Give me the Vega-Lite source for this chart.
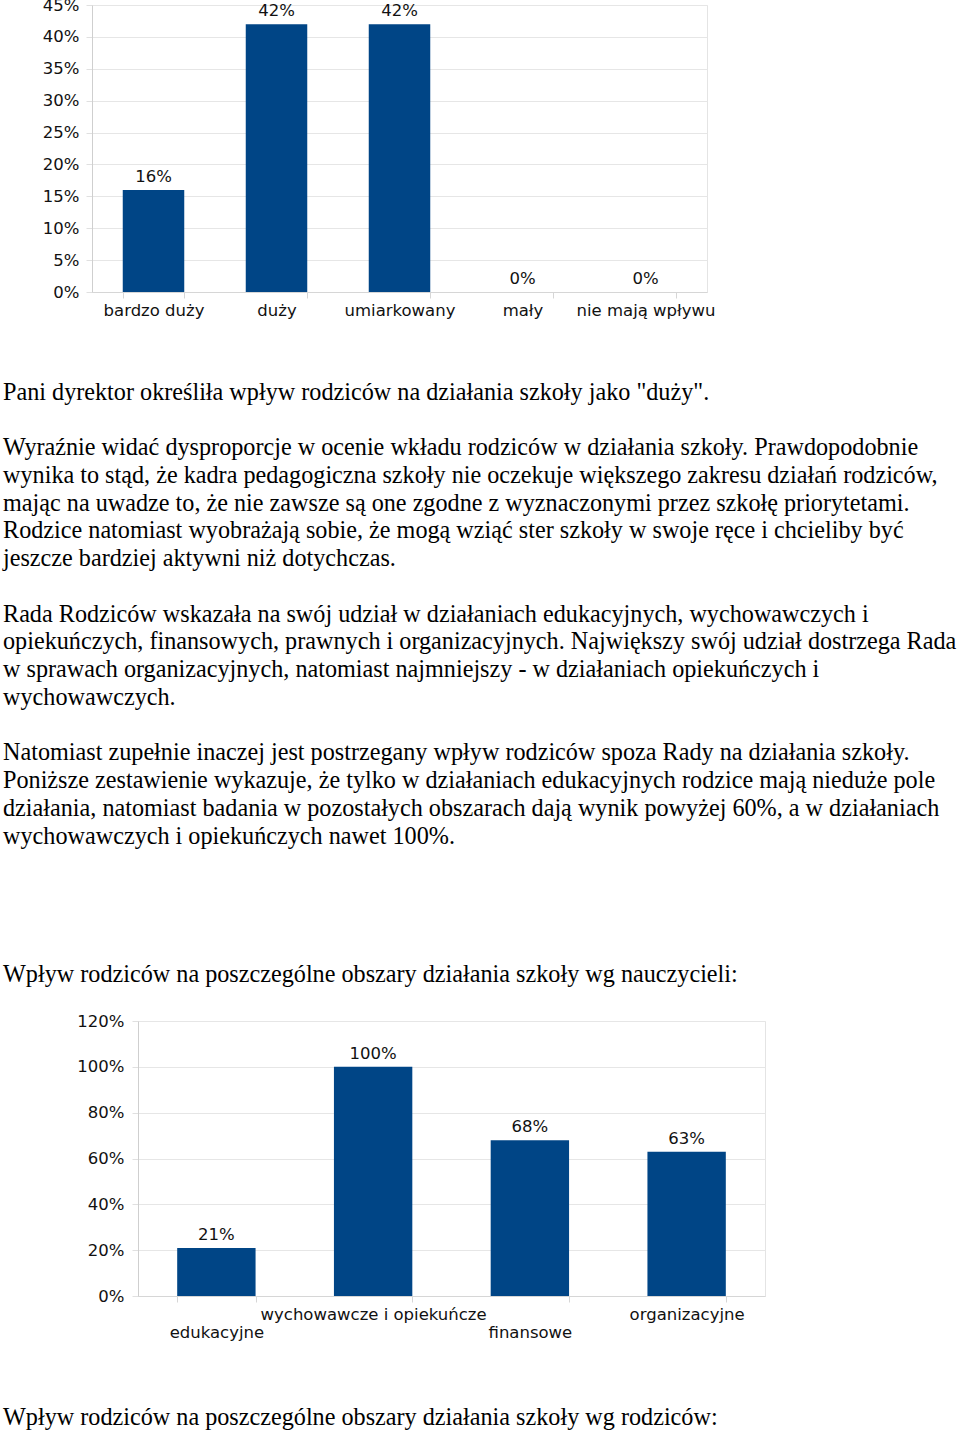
{
  "$schema": "https://vega.github.io/schema/vega-lite/v6.json",
  "padding": {"left": 0, "top": -4, "right": 0, "bottom": 0},
  "spacing": 0,
  "columns": 2,
  "align": "none",
  "bounds": "full",
  "background": "white",
  "config": {
    "view": {"stroke": null},
    "text": {"font": "Liberation Serif"}
  },
  "concat": [
    {"width": 0.01, "height": 0.01, "data": {"values": []}, "mark": "point"},
    {
      "width": 615,
      "height": 287,
      "view": {"stroke": "#e4e4e4"},
      "data": {"values": [
        {"kat": "bardzo duży", "v": 0.16},
        {"kat": "duży", "v": 0.42},
        {"kat": "umiarkowany", "v": 0.42},
        {"kat": "mały", "v": 0},
        {"kat": "nie mają wpływu", "v": 0}
      ]},
      "encoding": {
        "x": {"field": "kat", "type": "nominal", "sort": null,
          "scale": {"paddingInner": 0.5, "paddingOuter": 0.25},
          "axis": {"title": null, "labelAngle": 0, "labelLimit": 0, "labelOverlap": false, "tickBand": "extent", "tickSize": 6, "tickColor": "#d6d6d6", "domainColor": "#d6d6d6", "labelPadding": 4, "labelFont": "DejaVu Sans", "labelFontSize": 16.5, "labelColor": "#111111"}},
        "y": {"field": "v", "type": "quantitative",
          "scale": {"domain": [0, 0.45], "nice": false},
          "axis": {"title": null, "values": [0, 0.05, 0.1, 0.15, 0.2, 0.25, 0.3, 0.35, 0.4, 0.45], "format": ".0%", "grid": true, "gridColor": "#e6e6e6", "domainColor": "#cfcfcf", "tickSize": 6, "tickColor": "#e0e0e0", "labelPadding": 7, "minExtent": 90, "labelFont": "DejaVu Sans", "labelFontSize": 16.5, "labelColor": "#111111"}}
      },
      "layer": [
        {"mark": {"type": "bar", "color": "#004586"}},
        {"mark": {"type": "text", "dy": -13, "font": "DejaVu Sans", "fontSize": 16.5, "color": "#111111"},
         "encoding": {"text": {"field": "v", "type": "quantitative", "format": ".0%"}}}
      ]
    },
    {"width": 0.01, "height": 0.01, "data": {"values": []}, "mark": "point"},
    {
      "width": 960,
      "height": 693,
      "data": {"values": [
        {"row": 0, "t": "Pani dyrektor określiła wpływ rodziców na działania szkoły jako \"duży\"."},
        {"row": 2, "t": "Wyraźnie widać dysproporcje w ocenie wkładu rodziców w działania szkoły. Prawdopodobnie"},
        {"row": 3, "t": "wynika to stąd, że kadra pedagogiczna szkoły nie oczekuje większego zakresu działań rodziców,"},
        {"row": 4, "t": "mając na uwadze to, że nie zawsze są one zgodne z wyznaczonymi przez szkołę priorytetami."},
        {"row": 5, "t": "Rodzice natomiast wyobrażają sobie, że mogą wziąć ster szkoły w swoje ręce i chcieliby być"},
        {"row": 6, "t": "jeszcze bardziej aktywni niż dotychczas."},
        {"row": 8, "t": "Rada Rodziców wskazała na swój udział w działaniach edukacyjnych, wychowawczych i"},
        {"row": 9, "t": "opiekuńczych, finansowych, prawnych i organizacyjnych. Największy swój udział dostrzega Rada"},
        {"row": 10, "t": "w sprawach organizacyjnych, natomiast najmniejszy - w działaniach opiekuńczych i"},
        {"row": 11, "t": "wychowawczych."},
        {"row": 13, "t": "Natomiast zupełnie inaczej jest postrzegany wpływ rodziców spoza Rady na działania szkoły."},
        {"row": 14, "t": "Poniższe zestawienie wykazuje, że tylko w działaniach edukacyjnych rodzice mają nieduże pole"},
        {"row": 15, "t": "działania, natomiast badania w pozostałych obszarach dają wynik powyżej 60%, a w działaniach"},
        {"row": 16, "t": "wychowawczych i opiekuńczych nawet 100%."},
        {"row": 21, "t": "Wpływ rodziców na poszczególne obszary działania szkoły wg nauczycieli:"}
      ]},
      "mark": {"type": "text", "align": "left", "baseline": "middle", "dx": 2, "font": "Liberation Serif", "fontSize": 24.2, "color": "#000000"},
      "encoding": {
        "x": {"datum": 0, "type": "quantitative", "scale": {"domain": [0, 1]}, "axis": null},
        "y": {"field": "row", "type": "quantitative", "scale": {"domain": [-2.65, 22.32], "reverse": true, "nice": false, "zero": false}, "axis": null},
        "text": {"field": "t", "type": "nominal"}
      }
    },
    {"width": 0.01, "height": 0.01, "data": {"values": []}, "mark": "point"},
    {
      "width": 627,
      "height": 275,
      "view": {"stroke": "#e4e4e4"},
      "data": {"values": [
        {"kat": "edukacyjne", "v": 0.21},
        {"kat": "wychowawcze i opiekuńcze", "v": 1.0},
        {"kat": "finansowe", "v": 0.68},
        {"kat": "organizacyjne", "v": 0.63}
      ]},
      "encoding": {
        "x": {"field": "kat", "type": "nominal", "sort": null,
          "scale": {"paddingInner": 0.5, "paddingOuter": 0.25},
          "axis": {"title": null, "labelAngle": 0, "labelLimit": 0, "labelOverlap": false, "tickBand": "extent", "tickSize": 6, "tickColor": "#d6d6d6", "domainColor": "#d6d6d6",
            "labelPadding": {"condition": {"test": "datum.value === 'edukacyjne' || datum.value === 'finansowe'", "value": 22}, "value": 4},
            "labelFont": "DejaVu Sans", "labelFontSize": 16.5, "labelColor": "#111111"}},
        "y": {"field": "v", "type": "quantitative",
          "scale": {"domain": [0, 1.2], "nice": false},
          "axis": {"title": null, "values": [0, 0.2, 0.4, 0.6, 0.8, 1.0, 1.2], "format": ".0%", "grid": true, "gridColor": "#e6e6e6", "domainColor": "#cfcfcf", "tickSize": 6, "tickColor": "#e0e0e0", "labelPadding": 8, "minExtent": 136, "labelFont": "DejaVu Sans", "labelFontSize": 16.5, "labelColor": "#111111"}}
      },
      "layer": [
        {"mark": {"type": "bar", "color": "#004586"}},
        {"mark": {"type": "text", "dy": -13, "font": "DejaVu Sans", "fontSize": 16.5, "color": "#111111"},
         "encoding": {"text": {"field": "v", "type": "quantitative", "format": ".0%"}}}
      ]
    },
    {"width": 0.01, "height": 0.01, "data": {"values": []}, "mark": "point"},
    {
      "width": 960,
      "height": 90,
      "data": {"values": [
        {"row": 0, "t": "Wpływ rodziców na poszczególne obszary działania szkoły wg rodziców:"}
      ]},
      "mark": {"type": "text", "align": "left", "baseline": "middle", "dx": 2, "font": "Liberation Serif", "fontSize": 24.2, "color": "#000000"},
      "encoding": {
        "x": {"datum": 0, "type": "quantitative", "scale": {"domain": [0, 1]}, "axis": null},
        "y": {"field": "row", "type": "quantitative", "scale": {"domain": [-2.77, 0.47], "reverse": true, "nice": false, "zero": false}, "axis": null},
        "text": {"field": "t", "type": "nominal"}
      }
    }
  ]
}
